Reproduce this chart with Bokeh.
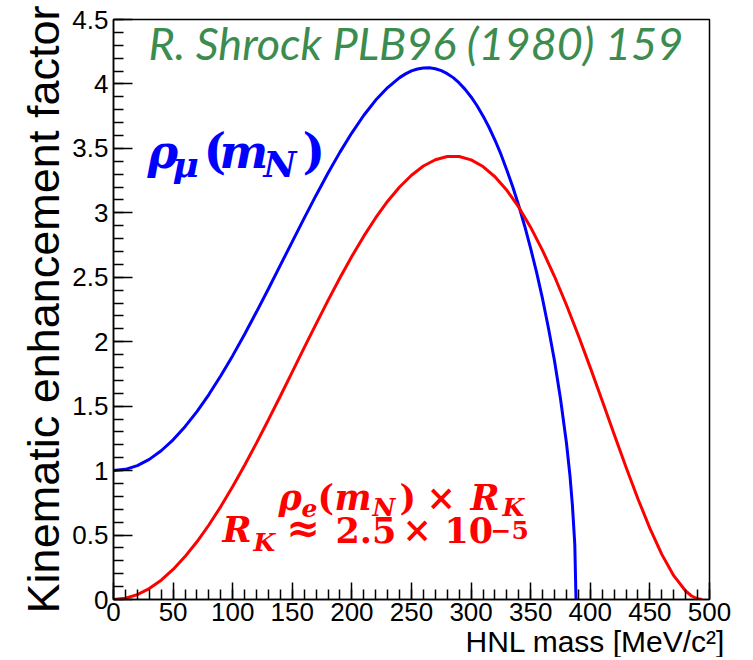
from bokeh.plotting import figure
from bokeh.models import Range1d, SingleIntervalTicker, CustomJSTickFormatter, Label, Title
from bokeh.embed import file_html
from bokeh.resources import INLINE

# ---- data ----
mass_mu = [0, 10, 20, 30, 40, 50, 60, 70, 80, 90, 100, 110, 120, 130, 140, 150, 160, 170, 180, 190,
           200, 210, 220, 230, 240, 245, 250, 255, 260, 265, 270, 275, 280, 285, 290, 295, 300, 305,
           310, 315, 320, 325, 330, 335, 340, 345, 350, 355, 360, 365, 370, 375, 380, 383, 385, 387, 388]
rho_mu = [1.000, 1.010, 1.039, 1.087, 1.154, 1.239, 1.341, 1.458, 1.590, 1.736, 1.892, 2.058, 2.232,
          2.411, 2.594, 2.777, 2.959, 3.137, 3.309, 3.471, 3.621, 3.757, 3.875, 3.972, 4.049, 4.078,
          4.101, 4.116, 4.124, 4.125, 4.118, 4.103, 4.080, 4.049, 4.008, 3.958, 3.899, 3.831, 3.752,
          3.664, 3.565, 3.455, 3.331, 3.200, 3.055, 2.896, 2.722, 2.536, 2.330, 2.101, 1.850, 1.558,
          1.214, 0.955, 0.731, 0.426, 0.000]

mass_e = [0, 10, 20, 30, 40, 50, 60, 70, 80, 90, 100, 110, 120, 130, 140, 150, 160, 170, 180, 190,
          200, 210, 220, 230, 240, 250, 260, 270, 280, 290, 300, 310, 320, 330, 340, 350, 360, 370,
          380, 390, 400, 410, 420, 430, 440, 450, 460, 470, 480, 485, 490, 494]
rho_e_rk = [0.000, 0.010, 0.038, 0.085, 0.150, 0.233, 0.333, 0.448, 0.578, 0.721, 0.876, 1.041, 1.215,
            1.395, 1.579, 1.766, 1.954, 2.139, 2.321, 2.496, 2.663, 2.819, 2.962, 3.090, 3.200, 3.292,
            3.363, 3.412, 3.437, 3.437, 3.411, 3.359, 3.280, 3.175, 3.044, 2.887, 2.707, 2.506, 2.285,
            2.048, 1.799, 1.542, 1.282, 1.026, 0.780, 0.552, 0.350, 0.185, 0.066, 0.027, 0.005, 0.000]

x_label = "HNL mass [MeV/c²]"
y_label = "Kinematic enhancement factor"
title_text = "R. Shrock PLB96 (1980) 159"

p = figure(frame_width=596, frame_height=580,
           min_border_left=113, min_border_right=36, min_border_top=19, min_border_bottom=58,
           x_range=Range1d(0, 500), y_range=Range1d(0, 4.5),
           output_backend="svg", toolbar_location=None,
           background_fill_color="white", border_fill_color="white")
p.xgrid.visible = False
p.ygrid.visible = False
p.outline_line_color = "black"
p.outline_line_width = 1.5
p.outline_line_alpha = 1.0

for ax in (p.xaxis[0], p.yaxis[0]):
    ax.axis_line_color = "black"
    ax.axis_line_width = 1.5
    ax.major_tick_line_color = "black"
    ax.minor_tick_line_color = "black"
    ax.major_tick_line_width = 1.5
    ax.minor_tick_line_width = 1.5
    ax.major_tick_out = 0
    ax.minor_tick_out = 0
    ax.minor_tick_in = 10
    ax.major_label_text_font = "Liberation Sans"
    ax.major_label_text_font_size = "26px"
    ax.major_label_text_color = "black"
    ax.axis_label_text_font = "Liberation Sans"
    ax.axis_label_text_font_style = "normal"
    ax.axis_label_text_color = "black"

xa = p.xaxis[0]
xa.ticker = SingleIntervalTicker(interval=50, num_minor_ticks=5)
xa.major_tick_in = 17
xa.major_label_standoff = 3

ya = p.yaxis[0]
ya.ticker = SingleIntervalTicker(interval=0.5, num_minor_ticks=5)
ya.major_tick_in = 19
ya.major_label_standoff = 5
ya.formatter = CustomJSTickFormatter(code="return String(Math.round(tick*10)/10);")
ya.axis_label = y_label
ya.axis_label_text_font_size = "45px"
ya.axis_label_standoff = 0

# x axis title, right aligned just past the end of the axis
p.add_layout(Title(text=x_label, align="right", offset=-16, standoff=-2,
                   text_font="Liberation Sans", text_font_style="normal",
                   text_font_size="30px", text_color="black"), "below")

p.line(mass_mu, rho_mu, line_color="#0000ff", line_width=3)
p.line(mass_e, rho_e_rk, line_color="#ff0000", line_width=3)


def lab(x, y, txt, size, font, style, color, dx=0, dy=0):
    # small correction so the text baseline lands on (x, y)
    corr = round(0.42 * size)
    p.add_layout(Label(x=x, y=y, x_offset=dx, y_offset=dy + corr, text=txt,
                       text_font=font, text_font_style=style,
                       text_font_size=f"{size}px", text_color=color,
                       text_align="left", text_baseline="alphabetic"))


# reference title
lab(29.4, 4.174, title_text, 45, "Lato", "italic", "#3c8c50")


def pieces(x, y, items, color):
    for txt, dx, dy, size, style in items:
        lab(x, y, txt, size, "DejaVu Serif", style, color, dx, dy)


BI = "bold italic"
B = "bold"
pieces(28.5, 3.35, [
    ("ρ", 0, -3, 46, BI),
    ("μ", 25, -11, 36, BI),
    ("(", 56, -3, 48, B),
    ("m", 72, -3, 46, BI),
    ("N", 116, -11, 36, BI),
    (")", 155, -3, 48, B),
], "#0000ff")

pieces(138.4, 0.675, [
    ("ρ", 0, 0, 35, BI),
    ("e", 23, -5, 25, BI),
    ("(", 39, 0, 35, B),
    ("m", 56, 0, 35, BI),
    ("N", 94, -5, 25, BI),
    (")", 121, 0, 35, B),
    ("×", 148, 0, 35, B),
    ("R", 192, 0, 35, BI),
    ("K", 224, -5, 25, BI),
], "#ff0000")

pieces(91.4, 0.45, [
    ("R", 0, -3, 35, BI),
    ("K", 31, -11, 25, BI),
    ("≈", 64, -3, 40, B),
    ("2.5", 113, -3, 35, B),
    ("×", 180, -3, 35, B),
    ("10", 222, -3, 35, B),
    ("−5", 268, 2, 25, B),
], "#ff0000")

open("out.html", "w").write(file_html(p, INLINE))
